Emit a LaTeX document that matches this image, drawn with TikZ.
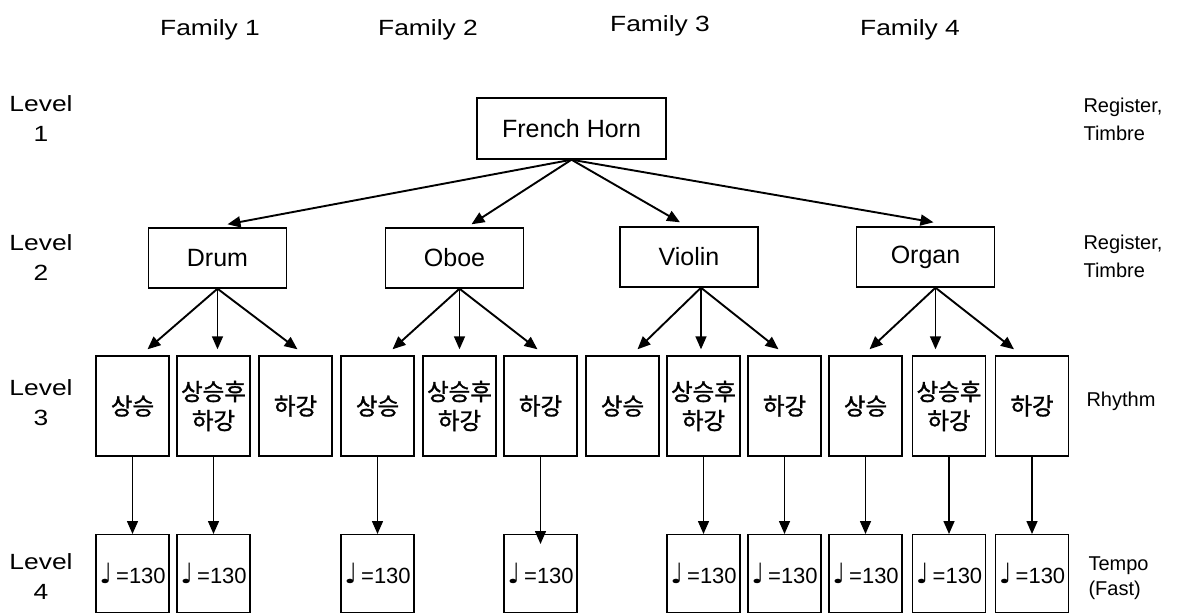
\documentclass[tikz,border=0pt]{standalone}
\usepackage{fontspec}
\setmainfont{Liberation Sans}
\newfontfamily\widefont{Liberation Sans}[FakeStretch=1.2]
\newfontfamily\krfont{Noto Sans CJK KR}[FakeBold=1.2]
\newfontfamily\symfont{DejaVu Sans}
\newcommand\qnote{{\symfont\fontsize{28}{28}\selectfont ♩}}
\usetikzlibrary{arrows.meta,calc}
\begin{document}
\begin{tikzpicture}[x=1pt,y=-1pt,
  box/.style={draw,line width=1.4pt,inner sep=0pt,align=center},
  lonebox/.style={box,minimum width=189pt,minimum height=61pt,font=\fontsize{25}{30}\selectfont},
  ltwobox/.style={box,minimum width=138pt,minimum height=60pt,font=\fontsize{25}{30}\selectfont},
  lthreebox/.style={box,minimum width=73pt,minimum height=100pt,font=\krfont\fontsize{23.5}{29}\selectfont},
  lfourbox/.style={box,minimum width=73pt,minimum height=78pt,anchor=north,font=\fontsize{22}{26}\selectfont},
  famlabel/.style={font=\widefont\fontsize{22}{26}\selectfont},
  lvllabel/.style={font=\widefont\fontsize{22}{30}\selectfont,align=center},
  sidelabel/.style={font=\fontsize{20}{28}\selectfont,align=left,anchor=west},
  arr/.style={line width=1.9pt,-{Triangle[length=13pt,width=11pt]}},
  varr/.style={line width=1.5pt,-{Triangle[length=13pt,width=11pt]}},
]
\useasboundingbox (0,0) rectangle (1178,614);

% header labels
\node[famlabel] (f1) at (210,30) {Family 1};
\node[famlabel] (f2) at (428,30) {Family 2};
\node[famlabel] (f3) at (660,26) {Family 3};
\node[famlabel] (f4) at (910,30) {Family 4};

\node[lvllabel] (lv1) at (41,119) {Level\\1};
\node[lvllabel] (lv2) at (41,258) {Level\\2};
\node[lvllabel] (lv3) at (41,403) {Level\\3};
\node[lvllabel] (lv4) at (41,577) {Level\\4};

\node[sidelabel] (s1) at (1080,119) {Register,\\Timbre};
\node[sidelabel] (s2) at (1080,256) {Register,\\Timbre};
\node[sidelabel] (s3) at (1083,401) {Rhythm};
\node[sidelabel,font=\fontsize{20}{25}\selectfont] (s4) at (1085,578) {Tempo\\(Fast)};

% level 1 and 2
\node[lonebox] (fh) at (571.5,128.5) {French Horn};
\node[ltwobox] (drum) at (217.5,258) {Drum};
\node[ltwobox] (oboe) at (454.5,258) {Oboe};
\node[ltwobox] (violin) at (689,257) {Violin};
\node[ltwobox] (organ) at (925.5,257) {Organ};

% level 3
\node[lthreebox] (a1) at (132.5,406) {상승};
\node[lthreebox] (a2) at (213.5,406) {상승후\\하강};
\node[lthreebox] (a3) at (295.5,406) {하강};
\node[lthreebox] (a4) at (377.5,406) {상승};
\node[lthreebox] (a5) at (459.5,406) {상승후\\하강};
\node[lthreebox] (a6) at (540.5,406) {하강};
\node[lthreebox] (a7) at (622.5,406) {상승};
\node[lthreebox] (a8) at (703.5,406) {상승후\\하강};
\node[lthreebox] (a9) at (784.5,406) {하강};
\node[lthreebox] (a10) at (865.5,406) {상승};
\node[lthreebox] (a11) at (949,406) {상승후\\하강};
\node[lthreebox] (a12) at (1032,406) {하강};

% level 4
\node[lfourbox] (b1) at (132.5,534) {\qnote\,=130};
\node[lfourbox] (b2) at (213.5,534) {\qnote\,=130};
\node[lfourbox] (b4) at (377.5,534) {\qnote\,=130};
\node[lfourbox] (b6) at (540.5,534) {\qnote\,=130};
\node[lfourbox] (b8) at (703.5,534) {\qnote\,=130};
\node[lfourbox] (b9) at (784.5,534) {\qnote\,=130};
\node[lfourbox] (b10) at (865.5,534) {\qnote\,=130};
\node[lfourbox] (b11) at (949,534) {\qnote\,=130};
\node[lfourbox] (b12) at (1032,534) {\qnote\,=130};

% level 1 -> level 2
\draw[arr] (fh.south) -- ($(drum.north)+(10,-3)$);
\draw[arr] (fh.south) -- ($(oboe.north)+(17,-3)$);
\draw[arr] (fh.south) -- ($(violin.north)+(-9,-4)$);
\draw[arr] (fh.south) -- ($(organ.north)+(8,-4)$);

% level 2 -> level 3
\coordinate (pd) at (drum.south);
\coordinate (po) at ($(oboe.south)+(5,0)$);
\coordinate (pv) at ($(violin.south)+(12,0)$);
\coordinate (pg) at ($(organ.south)+(10,0)$);

\draw[arr] (pd) -- ($(a1.north)+(15,-6)$);
\draw[varr] (pd) -- ($(pd |- a2.north)+(0,-6)$);
\draw[arr] (pd) -- ($(a3.north)+(2,-6)$);

\draw[arr] (po) -- ($(a4.north)+(15,-6)$);
\draw[varr] (po) -- ($(po |- a5.north)+(0,-6)$);
\draw[arr] (po) -- ($(a6.north)+(-3,-6)$);

\draw[arr] (pv) -- ($(a7.north)+(15,-6)$);
\draw[varr] (pv) -- ($(pv |- a8.north)+(0,-6)$);
\draw[arr] (pv) -- ($(a9.north)+(-6,-6)$);

\draw[arr] (pg) -- ($(a10.north)+(4,-6)$);
\draw[varr] (pg) -- ($(pg |- a11.north)+(0,-6)$);
\draw[arr] (pg) -- ($(a12.north)+(-18,-6)$);

% level 3 -> level 4
\draw[varr] (a1.south) -- (b1.north);
\draw[varr] (a2.south) -- (b2.north);
\draw[varr] (a4.south) -- (b4.north);
\draw[varr] (a6.south) -- ($(b6.north)+(0,10)$);
\draw[varr] (a8.south) -- (b8.north);
\draw[varr] (a9.south) -- (b9.north);
\draw[varr] (a10.south) -- (b10.north);
\draw[varr] (a11.south) -- (b11.north);
\draw[varr] (a12.south) -- (b12.north);
\end{tikzpicture}
\end{document}
